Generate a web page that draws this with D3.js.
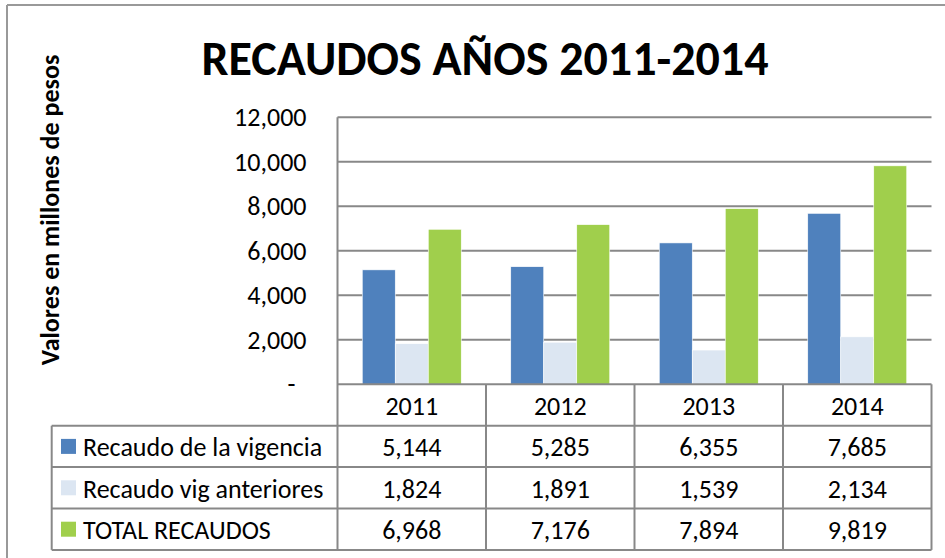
<!DOCTYPE html>
<html>
<head>
<meta charset="utf-8">
<script src="https://cdn.jsdelivr.net/npm/d3@7"></script>
<style>
  body { margin: 0; background: #fff; }
  text { font-family: Carlito, Calibri, Lato, "Open Sans", sans-serif; fill: #000; }
</style>
</head>
<body>
<div id="chart"></div>
<script>
// data
var years = ["2011", "2012", "2013", "2014"];
var seriesNames = ["Recaudo de la vigencia", "Recaudo vig anteriores", "TOTAL RECAUDOS"];
var seriesColors = ["#4f81bd", "#dce6f2", "#a0cf4c"];
var vigencia = [5144, 5285, 6355, 7685];
var anteriores = [1824, 1891, 1539, 2134];
var totales = [6968, 7176, 7894, 9819];
var yTicks = [0, 2000, 4000, 6000, 8000, 10000, 12000];

var w = 945, h = 558;
var margin = { top: 117.3, bottom: 173.7, left: 337.5, right: 13.5 };
var rowH = 41.4;
var legendLeft = 51.7;
var gridColor = "#888888";
var fs = "26px";

var series = [vigencia, anteriores, totales];

var svg = d3.select("#chart").append("svg")
  .attr("width", w)
  .attr("height", h);

// outer frame (only top and left edges show)
svg.append("line").attr("x1", 7).attr("x2", w).attr("y1", 5).attr("y2", 5)
  .attr("stroke", "#999").attr("stroke-width", 2);
svg.append("line").attr("x1", 7).attr("x2", 7).attr("y1", 5).attr("y2", h)
  .attr("stroke", "#999").attr("stroke-width", 2);

// title
svg.append("text")
  .attr("x", 485)
  .attr("y", 75)
  .attr("text-anchor", "middle")
  .style("font-size", "48px")
  .style("font-weight", "bold")
  .text("RECAUDOS AÑOS 2011-2014");

// y axis title
svg.append("text")
  .attr("transform", "translate(50,210) rotate(-90)")
  .attr("text-anchor", "middle")
  .attr("dominant-baseline", "central")
  .style("font-size", "26px")
  .style("font-weight", "bold")
  .text("Valores en millones de pesos");

// scales
var x = d3.scaleBand()
  .domain(years)
  .range([margin.left, w - margin.right])
  .padding(0);

var xs = d3.scaleBand()
  .domain(d3.range(series.length))
  .range([0, x.bandwidth()])
  .paddingInner(0)
  .paddingOuter(0.75);

var y = d3.scaleLinear()
  .domain([0, 12000])
  .range([h - margin.bottom, margin.top]);

// gridlines
svg.append("g")
  .selectAll("line")
  .data(yTicks.slice(1))
  .enter().append("line")
  .attr("x1", margin.left)
  .attr("x2", w - margin.right)
  .attr("y1", function(d) { return y(d); })
  .attr("y2", function(d) { return y(d); })
  .attr("stroke", gridColor)
  .attr("stroke-width", 2);

// y axis labels
var yAxis = d3.axisLeft(y)
  .tickValues(yTicks)
  .tickSize(0)
  .tickPadding(31)
  .tickFormat(function(d) { return d === 0 ? "-" : d3.format(",")(d); });

var yg = svg.append("g")
  .attr("transform", "translate(" + margin.left + ",0)")
  .call(yAxis);
yg.select(".domain").remove();
yg.selectAll("text")
  .style("font-family", "Carlito, Calibri, Lato, 'Open Sans', sans-serif")
  .style("font-size", fs)
  .attr("fill", "#000");
yg.selectAll(".tick")
  .filter(function(d) { return d === 0; })
  .select("text")
  .attr("dx", -11);

// bars
svg.append("g")
  .selectAll("g")
  .data(series)
  .enter().append("g")
  .attr("fill", function(d, i) { return seriesColors[i]; })
  .each(function(vals, si) {
    d3.select(this).selectAll("rect")
      .data(vals)
      .enter().append("rect")
      .attr("x", function(d, i) { return x(years[i]) + xs(si); })
      .attr("y", function(d) { return y(d); })
      .attr("width", xs.bandwidth())
      .attr("height", function(d) { return y(0) - y(d); })
      .attr("stroke", "#fff")
      .attr("stroke-width", 0.6);
  });

// data table
var base = y(0);
var tableBottom = base + rowH * 4;
var tbl = svg.append("g")
  .attr("stroke", gridColor)
  .attr("stroke-width", 2)
  .attr("fill", "none");

// horizontal lines
tbl.append("line")
  .attr("x1", margin.left).attr("x2", w - margin.right)
  .attr("y1", base).attr("y2", base);
tbl.selectAll(".hrow")
  .data(d3.range(1, 5))
  .enter().append("line")
  .attr("class", "hrow")
  .attr("x1", legendLeft).attr("x2", w - margin.right)
  .attr("y1", function(d) { return base + rowH * d; })
  .attr("y2", function(d) { return base + rowH * d; });

// vertical lines
tbl.append("line")
  .attr("x1", margin.left).attr("x2", margin.left)
  .attr("y1", margin.top).attr("y2", tableBottom);
tbl.append("line")
  .attr("x1", legendLeft).attr("x2", legendLeft)
  .attr("y1", base + rowH).attr("y2", tableBottom);
tbl.selectAll(".vcol")
  .data(years)
  .enter().append("line")
  .attr("class", "vcol")
  .attr("x1", function(d) { return x(d) + x.bandwidth(); })
  .attr("x2", function(d) { return x(d) + x.bandwidth(); })
  .attr("y1", base).attr("y2", tableBottom);

// year header
svg.append("g")
  .selectAll("text")
  .data(years)
  .enter().append("text")
  .attr("x", function(d) { return x(d) + x.bandwidth() / 2; })
  .attr("y", base + rowH / 2 + 1)
  .attr("text-anchor", "middle")
  .attr("dominant-baseline", "central")
  .style("font-size", fs)
  .text(function(d) { return d; });

// rows
var rows = svg.append("g")
  .selectAll("g")
  .data(series)
  .enter().append("g")
  .attr("transform", function(d, i) { return "translate(0," + (base + rowH * (i + 1)) + ")"; });

rows.append("rect")
  .attr("x", 61)
  .attr("y", rowH / 2 - 7.5)
  .attr("width", 15)
  .attr("height", 15)
  .attr("fill", function(d, i) { return seriesColors[i]; });

rows.append("text")
  .attr("x", 83)
  .attr("y", rowH / 2 + 1)
  .attr("dominant-baseline", "central")
  .style("font-size", fs)
  .text(function(d, i) { return seriesNames[i]; });

rows.selectAll(".val")
  .data(function(d) { return d; })
  .enter().append("text")
  .attr("class", "val")
  .attr("x", function(d, i) { return x(years[i]) + x.bandwidth() / 2; })
  .attr("y", rowH / 2 + 1)
  .attr("text-anchor", "middle")
  .attr("dominant-baseline", "central")
  .style("font-size", fs)
  .text(function(d) { return d3.format(",")(d); });
</script>
</body>
</html>
